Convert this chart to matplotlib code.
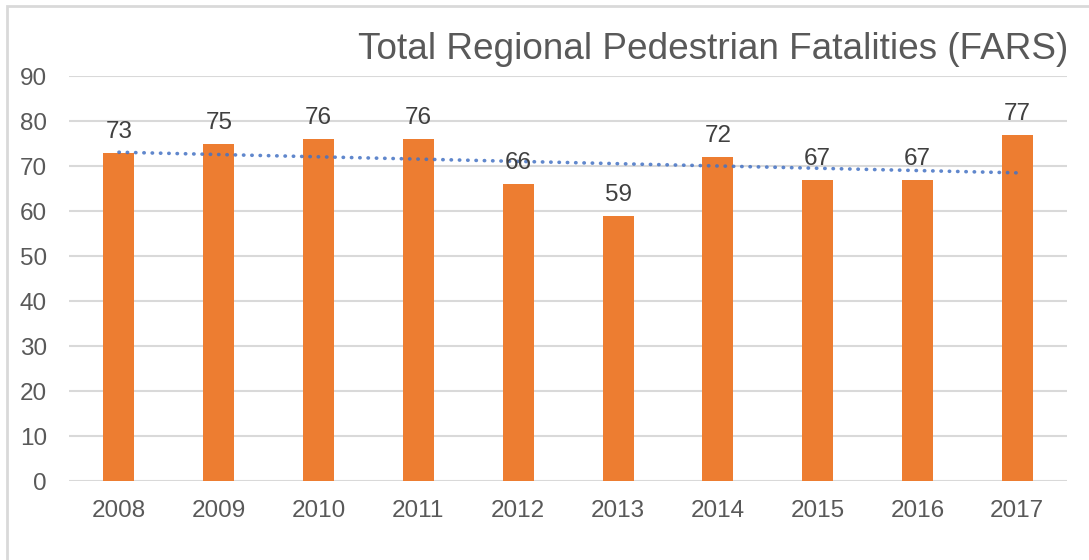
import matplotlib
matplotlib.use("Agg")
import matplotlib.pyplot as plt
import numpy as np
from matplotlib.patches import Rectangle

plt.rcParams["font.family"] = ["Liberation Sans", "DejaVu Sans"]

years = ["2008", "2009", "2010", "2011", "2012", "2013", "2014", "2015", "2016", "2017"]
fatalities = [73, 75, 76, 76, 66, 59, 72, 67, 67, 77]
y_ticks = [0, 10, 20, 30, 40, 50, 60, 70, 80, 90]

BAR_COLOR = "#ED7D31"
TREND_COLOR = "#4472C4"
TEXT_COLOR = "#595959"
LABEL_COLOR = "#404040"
GRID_COLOR = "#D9D9D9"

fig = plt.figure(figsize=(10.89, 5.6), dpi=100)
ax = fig.add_axes([0.0634, 0.141, 0.9166, 0.723])

x = np.arange(len(years))
ax.bar(x, fatalities, width=0.31, color=BAR_COLOR, zorder=2)

# linear trendline like the spreadsheet one
coef = np.polyfit(x, fatalities, 1)
ax.plot(x, np.polyval(coef, x), linestyle=(0, (0.1, 2.2)), dash_capstyle="round",
        linewidth=2.6, color=TREND_COLOR, alpha=0.85, zorder=3)

for xi, v in zip(x, fatalities):
    ax.annotate(str(v), (xi, v), xytext=(0, 7), textcoords="offset points",
                ha="center", va="bottom", fontsize=17.5, color=LABEL_COLOR, zorder=4)

ax.set_xlim(-0.5, len(years) - 0.5)
ax.set_ylim(0, 90)
ax.set_xticks(x)
ax.set_xticklabels(years)
ax.set_yticks(y_ticks)
ax.tick_params(axis="both", length=0, labelsize=17.5, labelcolor=TEXT_COLOR)
ax.tick_params(axis="x", pad=14)
ax.tick_params(axis="y", pad=16)
ax.grid(axis="y", color=GRID_COLOR, linewidth=1.5, zorder=0)
for side in ["top", "right", "left", "bottom"]:
    ax.spines[side].set_visible(False)

fig.text(0.981, 0.912, "Total Regional Pedestrian Fatalities (FARS)", ha="right", va="center",
         fontsize=26.6, color=TEXT_COLOR)

# chart area border
fig.patches.append(Rectangle((7 / 1089, -0.05), 1.1, 1 - 6 / 560 + 0.05, transform=fig.transFigure,
                             fill=False, edgecolor=GRID_COLOR, linewidth=2))

fig.savefig("out.png", dpi=100)
